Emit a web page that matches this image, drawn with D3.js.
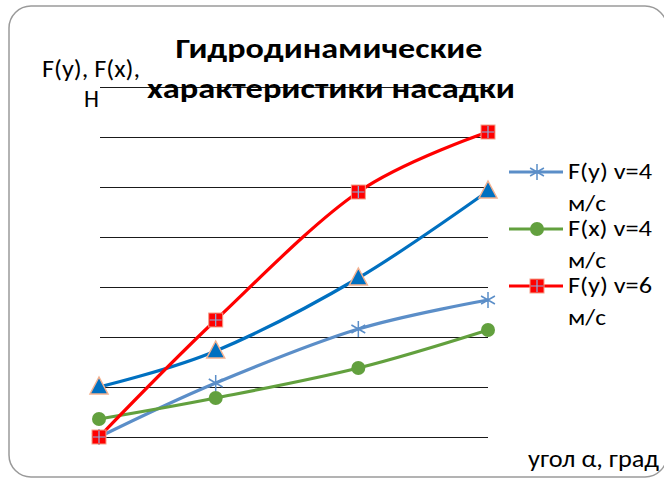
<!DOCTYPE html>
<html>
<head>
<meta charset="utf-8">
<script src="https://cdn.jsdelivr.net/npm/d3@7"></script>
<style>
  html, body { margin: 0; padding: 0; background: #fff; }
  svg { display: block; }
  text { font-family: Carlito, "Liberation Sans", "Open Sans", sans-serif; fill: #000; }
</style>
</head>
<body>
<svg id="chart" width="664" height="478"></svg>
<script>
// Angle of the nozzle, degrees
const angles = [0, 27, 60, 90];

// Force values, one array per series
const fyV4 = [0, 1.08, 2.16, 2.74];
const fxV4 = [0.36, 0.78, 1.38, 2.14];
const fyV6 = [0, 2.34, 4.9, 6.1];
const fxV6 = [1.0, 1.72, 3.18, 4.92];

// Horizontal grid levels
const gridLevels = [0, 1, 2, 3, 4, 5, 6, 7];

const legendLabels = [["F(y) v=4", "м/с"], ["F(x) v=4", "м/с"], ["F(y) v=6", "м/с"]];

const svg = d3.select("#chart");

// Outer frame
svg.append("rect")
  .attr("x", 9).attr("y", 6)
  .attr("width", 658).attr("height", 471)
  .attr("rx", 22).attr("ry", 22)
  .attr("fill", "#fff")
  .attr("stroke", "#9a9a9a")
  .attr("stroke-width", 1.5);

const x = d3.scaleLinear().domain([0, 90]).range([99, 488]);
const y = d3.scaleLinear().domain([0, 7]).range([437, 87]);

// Grid lines
svg.append("g").selectAll("line")
  .data(gridLevels)
  .join("line")
  .attr("x1", 100).attr("x2", 488)
  .attr("y1", d => Math.round(y(d)) + 0.5)
  .attr("y2", d => Math.round(y(d)) + 0.5)
  .attr("stroke", "#1a1a1a")
  .attr("stroke-width", 1.2);

const line = d3.line()
  .x((d, i) => x(angles[i]))
  .y(d => y(d))
  .curve(d3.curveCardinal.tension(0));

const series = [
  { key: "fxV6", values: fxV6, color: "#0070c0", marker: "triangle" },
  { key: "fyV4", values: fyV4, color: "#5b8ec8", marker: "star" },
  { key: "fxV4", values: fxV4, color: "#62a03e", marker: "circle" },
  { key: "fyV6", values: fyV6, color: "#ff0000", marker: "square" }
];

function drawMarker(g, type, cx, cy) {
  if (type === "triangle") {
    g.append("path")
      .attr("d", `M${cx},${cy - 10} L${cx + 9},${cy + 7} L${cx - 9},${cy + 7} Z`)
      .attr("fill", "#0070c0")
      .attr("stroke", "#f4b18f")
      .attr("stroke-width", 1.5);
  } else if (type === "square") {
    g.append("rect")
      .attr("x", cx - 7).attr("y", cy - 7)
      .attr("width", 14).attr("height", 14)
      .attr("fill", "#ff0000")
      .attr("stroke", "#f4a08a")
      .attr("stroke-width", 1);
    g.append("path")
      .attr("d", `M${cx - 6},${cy} H${cx + 6} M${cx},${cy - 6} V${cy + 6}`)
      .attr("stroke", "#8ab0e0")
      .attr("stroke-width", 1.2);
  } else if (type === "circle") {
    g.append("circle")
      .attr("cx", cx).attr("cy", cy).attr("r", 7)
      .attr("fill", "#62a03e");
  } else if (type === "star") {
    const r = 8;
    const dx = r * Math.cos(Math.PI / 6), dy = r * Math.sin(Math.PI / 6);
    g.append("path")
      .attr("d", `M${cx},${cy - r} V${cy + r} M${cx - dx},${cy - dy} L${cx + dx},${cy + dy} M${cx - dx},${cy + dy} L${cx + dx},${cy - dy}`)
      .attr("stroke", "#5b8ec8")
      .attr("stroke-width", 1.5)
      .attr("fill", "none");
  }
}

series.forEach(s => {
  const g = svg.append("g");
  g.append("path")
    .attr("d", line(s.values))
    .attr("fill", "none")
    .attr("stroke", s.color)
    .attr("stroke-width", 3.2)
    .attr("stroke-linejoin", "round");
  s.values.forEach((v, i) => drawMarker(g, s.marker, x(angles[i]), y(v)));
});

// Legend
const legendSeries = [series[1], series[2], series[3]];
legendSeries.forEach((s, i) => {
  const ly = 172 + i * 57;
  const g = svg.append("g");
  g.append("line")
    .attr("x1", 509).attr("x2", 563)
    .attr("y1", ly).attr("y2", ly)
    .attr("stroke", s.color)
    .attr("stroke-width", 3.2);
  drawMarker(g, s.marker, 537, ly);
  g.append("text")
    .attr("x", 568).attr("y", ly + 7)
    .attr("font-size", 22)
    .attr("textLength", 84).attr("lengthAdjust", "spacingAndGlyphs")
    .text(legendLabels[i][0]);
  g.append("text")
    .attr("x", 568).attr("y", ly + 39)
    .attr("font-size", 22)
    .attr("textLength", 38).attr("lengthAdjust", "spacingAndGlyphs")
    .text(legendLabels[i][1]);
});

// Title
svg.append("text")
  .attr("x", 329).attr("y", 58)
  .attr("text-anchor", "middle")
  .attr("font-size", 29).attr("font-weight", "bold")
  .attr("textLength", 307).attr("lengthAdjust", "spacingAndGlyphs")
  .text("Гидродинамические");
svg.append("text")
  .attr("x", 331).attr("y", 98)
  .attr("text-anchor", "middle")
  .attr("font-size", 29).attr("font-weight", "bold")
  .attr("textLength", 368).attr("lengthAdjust", "spacingAndGlyphs")
  .text("характеристики насадки");

// Axis titles
svg.append("text")
  .attr("x", 42).attr("y", 77)
  .attr("font-size", 24)
  .attr("textLength", 98).attr("lengthAdjust", "spacingAndGlyphs")
  .text("F(y), F(x),");
svg.append("text")
  .attr("x", 84).attr("y", 107)
  .attr("font-size", 24)
  .text("H");
svg.append("text")
  .attr("x", 528).attr("y", 467)
  .attr("font-size", 24)
  .attr("textLength", 131).attr("lengthAdjust", "spacingAndGlyphs")
  .text("угол α, град");
</script>
</body>
</html>
